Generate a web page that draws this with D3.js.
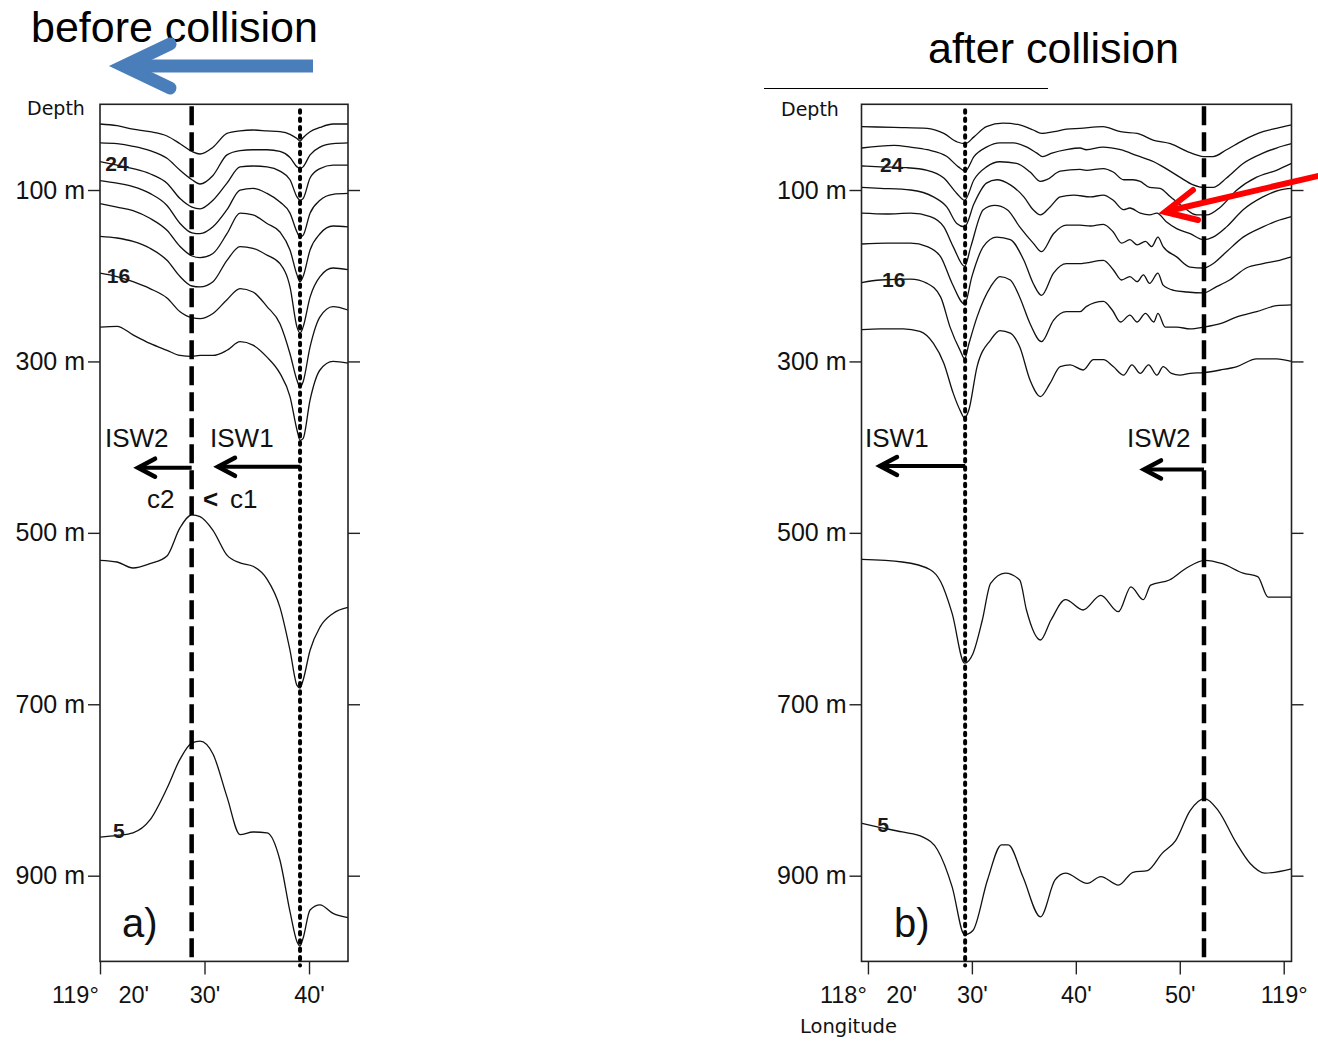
<!DOCTYPE html>
<html><head><meta charset="utf-8">
<script src="https://cdn.jsdelivr.net/npm/d3@7"></script>
<style>
html,body{margin:0;padding:0;background:#fff;}
svg{display:block;background:#fff;}
text{font-family:"Liberation Sans",Arial,sans-serif;fill:#111;}
</style></head><body>
<svg id="chart" width="1318" height="1041"></svg>
<script>
// ---------- data ----------
const depthTicks = [100, 300, 500, 700, 900];
const depthTickLabels = ["100 m", "300 m", "500 m", "700 m", "900 m"];
const lonTicksA = [20, 30, 40];
const lonTickLabelsA = ["119°\u00a0\u00a0\u00a020'", "30'", "40'"];
const lonTicksB = [20, 30, 40, 50, 60];
const lonTickLabelsB = ["118°\u00a0\u00a0\u00a020'", "30'", "40'", "50'", "119°"];

// panel a: longitude (minutes) sample grid and isotherm depths (m)
const lonA = [20.0,21.63,23.16,24.78,26.41,27.66,28.8,29.57,30.81,32.15,33.4,34.64,35.98,37.22,38.18,38.85,39.14,39.43,40.1,41.05,42.3,43.73];
const isoA1 = [23,25,29,32,37,46,55,58,50,34,31,30,31,32,35,40,43,39,32,27,23,23];
const isoA2 = [45,46,49,54,63,77,88,93,83,59,54,53,53,55,62,73,75,73,59,50,46,45];
const isoA3 = [67,71,75,81,92,110,120,122,112,92,73,72,73,78,88,108,112,110,86,75,71,71];
const isoA4 = [89,92,96,104,118,139,150,151,143,123,100,98,104,114,127,149,155,153,127,112,105,104];
const isoA5 = [116,120,124,133,147,166,177,179,174,151,127,129,139,149,170,199,207,201,170,151,142,143];
const isoA6 = [154,156,160,168,182,201,212,213,207,182,166,168,176,186,213,260,267,260,225,201,191,193];
const isoA7 = [197,201,207,215,226,242,249,250,244,228,215,219,236,256,291,322,330,324,283,248,236,240];
const isoA8 = [260,259,269,279,287,293,294,293,293,287,277,281,295,314,341,380,392,390,345,310,300,302];
const isoA9 = [532,534,541,536,527,494,479,481,497,526,535,539,554,587,637,678,681,672,637,610,594,587];
const isoA10 = [855,853,850,835,798,764,745,743,758,808,852,849,850,882,942,977,982,973,940,934,944,949];

// panel b: [longitude minutes, depth m]
const isoB1 = [[19.4,26],[22.5,27],[25.7,28],[27.3,34],[28.6,44],[29.35,46],[30.2,38],[31.4,26],[33.0,22],[34.6,24],[35.9,30],[36.7,34],[37.9,32],[39.1,29],[40.4,28],[42.6,26],[44.3,32],[45.9,34],[47.5,42],[49.1,46],[50.7,55],[51.6,59],[52.3,61],[53.2,61],[54.5,53],[56.1,42],[58.0,32],[59.3,28],[60.75,24]];
const isoB2 = [[19.4,51],[22.5,48],[24.1,50],[25.7,53],[27.6,61],[28.7,73],[29.35,78],[30.2,61],[31.4,50],[32.7,45],[34.0,45],[35.3,50],[36.25,57],[36.8,61],[37.7,57],[39.1,53],[40.4,51],[41.0,53],[42.6,50],[44.3,53],[45.9,60],[47.5,67],[48.4,73],[50.0,85],[51.3,94],[52.3,97],[53.2,97],[54.5,86],[56.1,69],[58.0,57],[59.3,51],[60.75,46]];
const isoB3 = [[19.4,72],[21.2,73],[23.75,74],[25.7,77],[27.3,86],[28.55,104],[29.3,112],[30.2,88],[31.4,73],[32.7,67],[34.3,69],[35.6,79],[36.6,90],[37.2,88],[38.5,78],[40.4,76],[41.0,77],[42.65,75],[43.6,79],[44.6,88],[45.5,88],[46.2,90],[47.1,97],[48.1,98],[49.1,108],[50.35,120],[51.6,129],[52.6,129],[53.9,120],[55.5,100],[57.4,85],[59.3,77],[60.75,69]];
const isoB4 = [[19.4,97],[21.2,98],[24.1,100],[26.3,108],[27.6,120],[28.55,139],[29.3,143],[30.2,116],[31.4,92],[32.4,88],[33.7,94],[35.0,108],[35.9,123],[36.6,129],[37.5,120],[38.5,108],[39.8,106],[41.4,108],[42.65,106],[43.6,112],[44.6,123],[45.2,121],[46.2,127],[47.1,129],[47.8,127],[48.7,137],[49.7,145],[51.0,151],[52.3,158],[53.2,155],[54.5,143],[56.1,123],[58.0,108],[59.6,100],[60.75,98]];
const isoB5 = [[19.4,127],[21.8,128],[24.1,127],[26.0,131],[27.3,143],[28.2,166],[29.3,189],[29.9,166],[31.1,123],[32.2,118],[33.4,123],[34.6,143],[35.9,162],[36.7,172],[37.85,151],[39.1,141],[40.4,141],[41.4,142],[42.65,140],[43.6,149],[44.4,162],[45.2,158],[45.9,164],[46.7,160],[47.3,166],[47.9,155],[48.4,166],[49.7,178],[51.0,190],[52.3,191],[53.2,186],[54.5,172],[56.1,155],[58.0,143],[59.6,135],[60.75,131]];
const isoB6 = [[19.4,163],[21.8,162],[24.1,162],[25.7,166],[27.0,178],[28.1,209],[29.3,233],[30.0,201],[31.1,166],[32.4,155],[33.7,158],[35.0,182],[35.9,209],[36.7,223],[37.85,197],[39.1,186],[40.4,186],[41.0,185],[42.65,182],[43.6,193],[44.4,205],[45.2,201],[45.9,207],[46.5,199],[47.1,209],[47.9,197],[48.4,211],[49.4,217],[50.7,219],[52.3,220],[53.5,213],[54.8,205],[56.4,191],[58.0,186],[59.6,182],[60.75,178]];
const isoB7 = [[19.4,208],[21.2,205],[24.1,204],[25.7,209],[27.0,225],[27.9,260],[28.9,288],[29.3,297],[29.7,280],[30.5,248],[31.8,213],[32.7,201],[33.7,205],[34.6,225],[35.6,256],[36.7,277],[37.85,252],[39.1,242],[40.4,242],[41.0,236],[42.65,230],[43.5,240],[44.3,254],[45.2,246],[45.9,254],[46.7,244],[47.5,254],[47.9,244],[48.6,260],[49.7,260],[51.0,262],[52.3,260],[53.9,256],[55.5,248],[57.4,242],[59.3,235],[60.75,234]];
const isoB8 = [[19.4,263],[21.2,262],[23.4,262],[25.0,265],[26.3,279],[27.3,302],[28.2,337],[28.9,358],[29.3,366],[29.7,357],[30.5,306],[31.8,275],[32.7,264],[33.7,267],[34.6,283],[35.6,322],[36.6,341],[37.5,326],[38.5,306],[39.45,304],[40.7,310],[41.7,298],[42.65,298],[43.6,306],[44.6,316],[45.4,304],[46.2,314],[47.0,304],[47.8,316],[48.4,306],[49.2,314],[50.0,316],[51.0,314],[52.3,313],[53.9,310],[55.5,306],[57.4,297],[59.3,297],[60.75,300]];
const isoB9 = [[19.4,531],[23.3,534],[26.0,543],[27.0,557],[28.1,594],[29.3,652],[30.1,641],[31.0,602],[31.8,559],[33.2,547],[34.6,555],[35.25,590],[36.6,625],[37.6,602],[39.0,578],[40.7,590],[42.4,573],[44.1,592],[45.3,563],[46.5,578],[47.2,561],[49.0,555],[50.65,541],[52.4,532],[54.1,536],[56.1,547],[57.5,551],[58.5,575],[60.75,575]];
const isoB10 = [[19.4,839],[20.9,843],[23.3,849],[25.3,855],[26.7,870],[28.1,913],[29.3,969],[30.1,964],[31.5,905],[32.85,864],[33.5,864],[34.9,901],[36.6,948],[38.0,905],[39.0,897],[41.1,909],[42.4,901],[44.1,911],[45.5,896],[46.9,894],[48.3,874],[49.6,859],[51.0,824],[52.4,810],[53.7,824],[55.45,862],[56.8,886],[58.2,897],[60.75,892]];

// soliton positions (longitude minutes)
const markersA = [{lon:28.77, type:"dash"}, {lon:39.14, type:"dot"}];
const markersB = [{lon:29.35, type:"dot"}, {lon:52.33, type:"dash"}];

// ---------- scales ----------
const svg = d3.select("#chart");
const y = d3.scaleLinear().domain([0, 1000]).range([104.3, 961.4]);
const xA = d3.scaleLinear().domain([20, 43.73]).range([100, 348]);
const xB = d3.scaleLinear().domain([19.38, 60.75]).range([861.5, 1291.5]);

function styleAxis(sel, fs) {
  sel.select(".domain").remove();
  sel.selectAll(".tick line").attr("stroke", "#222").attr("stroke-width", 1.4);
  sel.selectAll(".tick text").attr("font-size", fs).attr("fill", "#111");
  sel.attr("font-family", null).attr("font-size", null);
}

function drawPanel(x, ticks, tickLabels, lines, markers) {
  const g = svg.append("g");
  const [x0, x1] = x.range();
  const [y0, y1] = y.range();
  g.append("g").attr("transform", `translate(${x0},0)`)
    .call(d3.axisLeft(y).tickValues(depthTicks).tickFormat((d, i) => depthTickLabels[i]).tickSize(12).tickPadding(3))
    .call(s => styleAxis(s, 25));
  g.append("g").attr("transform", `translate(${x1},0)`)
    .call(d3.axisRight(y).tickValues(depthTicks).tickFormat("").tickSize(12))
    .call(s => styleAxis(s, 25));
  g.append("g").attr("transform", `translate(0,${y1})`)
    .call(d3.axisBottom(x).tickValues(ticks).tickFormat((d, i) => tickLabels[i]).tickSize(13).tickPadding(12))
    .call(s => styleAxis(s, 23.5));

  const line = d3.line().x(d => x(d[0])).y(d => y(d[1])).curve(d3.curveMonotoneX);
  g.append("g").selectAll("path").data(lines).join("path")
    .attr("d", line).attr("fill", "none").attr("stroke", "#111").attr("stroke-width", 1.3);

  g.append("rect").attr("x", x0).attr("y", y0).attr("width", x1 - x0).attr("height", y1 - y0)
    .attr("fill", "none").attr("stroke", "#222").attr("stroke-width", 1.6);

  g.append("g").selectAll("line").data(markers).join("line")
    .attr("x1", d => x(d.lon)).attr("x2", d => x(d.lon))
    .attr("y1", d => d.type === "dash" ? y0 + 2 : y0 + 6)
    .attr("y2", d => d.type === "dash" ? y1 : y1 + 4)
    .attr("stroke", "#000")
    .attr("stroke-width", d => d.type === "dash" ? 4.5 : 4)
    .attr("stroke-linecap", d => d.type === "dash" ? "butt" : "round")
    .attr("stroke-dasharray", d => d.type === "dash" ? "19,7" : "2.5,5.8");
  return g;
}

const linesA = [isoA1, isoA2, isoA3, isoA4, isoA5, isoA6, isoA7, isoA8, isoA9, isoA10]
  .map(arr => arr.map((d, i) => [lonA[i], d]));
const linesB = [isoB1, isoB2, isoB3, isoB4, isoB5, isoB6, isoB7, isoB8, isoB9, isoB10];

const gA = drawPanel(xA, lonTicksA, lonTickLabelsA, linesA, markersA);
const gB = drawPanel(xB, lonTicksB, lonTickLabelsB, linesB, markersB);

// contour labels
function label(g, x, lon, depth, txt) {
  g.append("text").attr("x", x(lon)).attr("y", y(depth)).text(txt)
    .attr("font-size", 21).attr("font-weight", "bold").style("fill", "#1a1a1a");
}
label(gA, xA, 20.5, 78, "24"); label(gA, xA, 20.65, 209, "16"); label(gA, xA, 21.25, 856, "5");
label(gB, xB, 21.15, 79, "24"); label(gB, xB, 21.35, 213, "16"); label(gB, xB, 20.9, 849, "5");

// ISW arrows & texts
function arrow(g, x, lonFrom, lonTo, depth) {
  const xf = x(lonFrom), xt = x(lonTo), yy = y(depth);
  g.append("line").attr("x1", xf).attr("x2", xt + 4).attr("y1", yy).attr("y2", yy)
    .attr("stroke", "#000").attr("stroke-width", 4);
  g.append("path").attr("d", `M${xt + 17},${yy - 9}L${xt},${yy}L${xt + 17},${yy + 9}`)
    .attr("fill", "none").attr("stroke", "#000").attr("stroke-width", 4.5)
    .attr("stroke-linejoin", "miter").attr("stroke-linecap", "round");
}
function note(g, x, lon, depth, txt, size, weight) {
  g.append("text").attr("x", x(lon)).attr("y", y(depth)).text(txt)
    .attr("font-size", size).attr("font-weight", weight || "normal");
}
arrow(gA, xA, 28.77, 23.64, 424);
arrow(gA, xA, 39.14, 31.29, 423);
note(gA, xA, 20.48, 400, "ISW2", 26);
note(gA, xA, 30.53, 400, "ISW1", 26);
note(gA, xA, 24.5, 471, "c2", 26);
note(gA, xA, 29.86, 471, "<", 26, "bold");
note(gA, xA, 32.44, 471, "c1", 26);
note(gA, xA, 22.1, 971, "a)", 40);

arrow(gB, xB, 29.35, 21.16, 422);
arrow(gB, xB, 52.33, 46.56, 426);
note(gB, xB, 19.72, 400, "ISW1", 26);
note(gB, xB, 44.92, 400, "ISW2", 26);
note(gB, xB, 22.5, 971, "b)", 40);

// axis titles
svg.append("text").attr("x", 27).attr("y", 115).text("Depth")
  .style("font-family", '"DejaVu Sans", sans-serif').attr("font-size", 19);
svg.append("text").attr("x", 781).attr("y", 116).text("Depth")
  .style("font-family", '"DejaVu Sans", sans-serif').attr("font-size", 19);
svg.append("text").attr("x", 800).attr("y", 1033).text("Longitude")
  .style("font-family", '"DejaVu Sans", sans-serif').attr("font-size", 19.5);

// titles
svg.append("text").attr("x", 31).attr("y", 42).text("before collision").attr("font-size", 43).style("fill", "#000");
svg.append("text").attr("x", 928).attr("y", 63).text("after collision").attr("font-size", 43).style("fill", "#000");
svg.append("line").attr("x1", 764).attr("x2", 1048).attr("y1", 88.5).attr("y2", 88.5)
  .attr("stroke", "#000").attr("stroke-width", 1.2);

// blue direction arrow
svg.append("line").attr("x1", 313).attr("x2", 130).attr("y1", 66).attr("y2", 66)
  .attr("stroke", "#4a7ebb").attr("stroke-width", 13);
svg.append("path").attr("d", "M170,44L124,66L170,88").attr("fill", "none")
  .attr("stroke", "#4a7ebb").attr("stroke-width", 13)
  .attr("stroke-linecap", "round").attr("stroke-linejoin", "miter");

// red pointer arrow
svg.append("line").attr("x1", 1320).attr("y1", 175.5).attr("x2", 1168).attr("y2", 211)
  .attr("stroke", "#ff0000").attr("stroke-width", 6);
svg.append("path").attr("d", "M1193,190L1165,212L1198,220").attr("fill", "none")
  .attr("stroke", "#ff0000").attr("stroke-width", 6)
  .attr("stroke-linecap", "round").attr("stroke-linejoin", "miter");
</script>
</body></html>
